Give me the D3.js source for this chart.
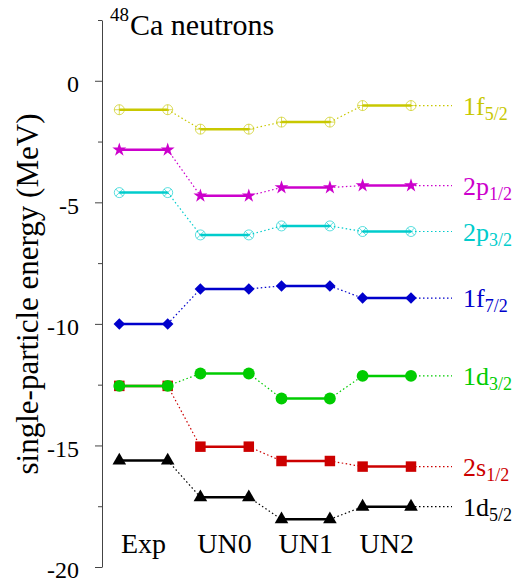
<!DOCTYPE html>
<html>
<head>
<meta charset="utf-8">
<script src="https://cdn.jsdelivr.net/npm/d3@7"></script>
</head>
<body style="margin:0;background:#fff">
<svg id="chart" width="518" height="584"></svg>
<script>
// ---- data ----
const categories = ["Exp", "UN0", "UN1", "UN2"];
const levelNames = ["1f", "2p", "2p", "1f", "1d", "2s", "1d"];
const levelSubs  = ["5/2", "1/2", "3/2", "7/2", "3/2", "1/2", "5/2"];
const f52 = [-1.19, -1.99, -1.70, -1.02];
const p12 = [-2.84, -4.73, -4.39, -4.31];
const p32 = [-4.60, -6.34, -5.97, -6.20];
const f72 = [-10.00, -8.56, -8.44, -8.94];
const d32 = [-12.55, -12.04, -13.07, -12.14];
const s12 = [-12.55, -15.05, -15.64, -15.87];
const d52 = [-15.62, -17.13, -18.04, -17.52];
const seriesValues = [f52, p12, p32, f72, d32, s12, d52];
const seriesColors = ["#c8c800", "#cc00cc", "#00cccc", "#0000cc", "#00cc00", "#cc0000", "#000000"];
const seriesMarkers = ["circlePlus", "star", "circleCross", "diamond", "circle", "square", "triangle"];
const yTicksMajor = [0, -5, -10, -15, -20];
const yTicksMinor = [2.5, -2.5, -7.5, -12.5, -17.5];

// ---- layout ----
const FONT = "'Liberation Serif', 'Times New Roman', serif";
const svg = d3.select("#chart").style("font-family", FONT);
const y = d3.scaleLinear().domain([-20, 2.5]).range([567, 20]);
const x = d3.scalePoint().domain(categories).range([143.5, 386.8]);
const halfW = 24.2;
const axisX = 102;
const extEnd = 452;

// axis
const axis = d3.axisLeft(y).tickValues(yTicksMajor).tickSize(7).tickSizeOuter(0)
  .tickFormat(d => String(d));
const gAxis = svg.append("g").attr("transform", `translate(${axisX},0)`).call(axis);
gAxis.attr("font-family", null).attr("font-size", null);
gAxis.select(".domain").attr("stroke", "#444");
gAxis.selectAll(".tick line").attr("stroke", "#444");
gAxis.selectAll(".tick text").style("font-family", FONT).style("font-size", "24px")
  .attr("fill", "#000").attr("x", -23).attr("dy", "0.45em");
const minor = d3.axisLeft(y).tickValues(yTicksMinor).tickSize(4).tickFormat("");
const gMinor = svg.append("g").attr("transform", `translate(${axisX},0)`).call(minor);
gMinor.select(".domain").remove();
gMinor.selectAll(".tick line").attr("stroke", "#444");

// axis title
svg.append("text")
  .attr("transform", `translate(38,${(113 + 475) / 2}) rotate(-90)`)
  .attr("text-anchor", "middle")
  .style("font-family", FONT).style("font-size", "31px")
  .text("single-particle energy (MeV)");

// chart title
const title = svg.append("text").attr("x", 110).attr("y", 35)
  .style("font-family", FONT).style("font-size", "30px");
title.append("tspan").style("font-size", "19px").attr("dy", -14).text("48");
title.append("tspan").attr("dy", 14).attr("dx", 1).text("Ca neutrons");

// category labels
svg.selectAll(".cat").data(categories).enter().append("text")
  .attr("x", d => x(d)).attr("y", 553)
  .attr("text-anchor", "middle")
  .style("font-family", FONT).style("font-size", "28px")
  .text(d => d);

// markers
function drawMarker(g, type, color, cx, cy) {
  if (type === "circlePlus" || type === "circleCross") {
    const r = 5;
    g.append("circle").attr("cx", cx).attr("cy", cy).attr("r", r)
      .attr("fill", "none").attr("stroke", color).attr("stroke-width", 0.8).attr("opacity", 0.8);
    const a = type === "circlePlus" ? 0 : Math.PI / 4;
    for (let k = 0; k < 2; k++) {
      const ang = a + k * Math.PI / 2;
      g.append("line")
        .attr("x1", cx - r * Math.cos(ang)).attr("y1", cy - r * Math.sin(ang))
        .attr("x2", cx + r * Math.cos(ang)).attr("y2", cy + r * Math.sin(ang))
        .attr("stroke", color).attr("stroke-width", 0.8).attr("opacity", 0.8);
    }
  } else {
    const symMap = {
      star: [d3.symbolStar, 60, 0],
      diamond: [d3.symbolSquare, 66, 45],
      circle: [d3.symbolCircle, 110, 0],
      square: [d3.symbolSquare, 110, 0],
      triangle: [d3.symbolTriangle, 80, 0]
    };
    const [sym, size, rot] = symMap[type];
    g.append("path")
      .attr("d", d3.symbol().type(sym).size(size)())
      .attr("transform", `translate(${cx},${cy}) rotate(${rot})`)
      .attr("fill", color);
  }
}

// draw series, bottom of list first so upper ones lie on top
for (let s = seriesValues.length - 1; s >= 0; s--) {
  const vals = seriesValues[s];
  const color = seriesColors[s];
  const g = svg.append("g");
  for (let i = 0; i < categories.length - 1; i++) {
    g.append("line")
      .attr("x1", x(categories[i]) + halfW).attr("y1", y(vals[i]))
      .attr("x2", x(categories[i + 1]) - halfW).attr("y2", y(vals[i + 1]))
      .attr("stroke", color).attr("stroke-width", 1.2).attr("stroke-dasharray", "1.5,2.5");
  }
  const last = categories.length - 1;
  g.append("line")
    .attr("x1", x(categories[last]) + halfW).attr("y1", y(vals[last]))
    .attr("x2", extEnd).attr("y2", y(vals[last]))
    .attr("stroke", color).attr("stroke-width", 1.2).attr("stroke-dasharray", "1.5,2.5");
  categories.forEach((c, i) => {
    g.append("line")
      .attr("x1", x(c) - halfW).attr("x2", x(c) + halfW)
      .attr("y1", y(vals[i])).attr("y2", y(vals[i]))
      .attr("stroke", color).attr("stroke-width", 2.5);
  });
  categories.forEach((c, i) => {
    drawMarker(g, seriesMarkers[s], color, x(c) - halfW, y(vals[i]));
    drawMarker(g, seriesMarkers[s], color, x(c) + halfW, y(vals[i]));
  });
  const t = g.append("text").attr("x", 463).attr("y", y(vals[last]) + 9)
    .style("font-family", FONT).style("font-size", "26px").attr("fill", color);
  t.append("tspan").text(levelNames[s]);
  t.append("tspan").style("font-size", "18px").attr("dy", 5).text(levelSubs[s]);
}
</script>
</body>
</html>
